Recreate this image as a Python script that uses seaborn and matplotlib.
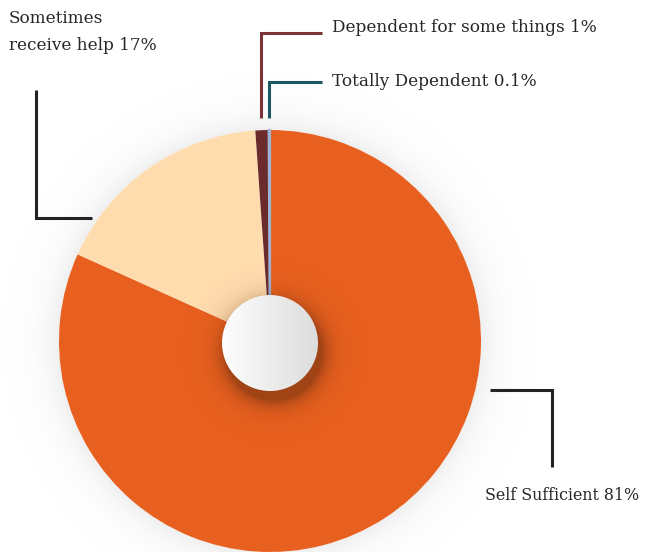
import numpy as np
import matplotlib
matplotlib.use("Agg")
import matplotlib.pyplot as plt
from matplotlib.patches import Circle
import seaborn as sns

# Share of respondents by level of independence
categories = ["Self Sufficient", "Sometimes receive help",
              "Dependent for some things", "Totally Dependent"]
values = [81, 17, 1, 0.1]
labels = ["Self Sufficient 81%", "Sometimes\nreceive help 17%",
          "Dependent for some things 1%", "Totally Dependent 0.1%"]
colors = ["#E8601F", "#FEDCAE", "#6B2A2C", "#9DB3D4"]
line_colors = ["#222222", "#222222", "#7A3438", "#1E5664"]

sns.set_theme(style="white")
plt.rcParams["font.family"] = ["DejaVu Serif"]

W, H = 646, 552
fig = plt.figure(figsize=(W / 100, H / 100), dpi=100)
ax = fig.add_axes([0, 0, 1, 1])

cx, cy, R = 270, H - 341, 211

# soft grey halo around the pie
yy, xx = np.mgrid[0:H, 0:W]
xs, ys = xx + 0.5, (H - yy) - 0.5
d = np.hypot(xs - cx, ys - cy) - R
halo = np.zeros((H, W, 4))
halo[..., :3] = 0.55
halo[..., 3] = np.where(d > 0, 0.14 * np.exp(-d / 16.0), 0)
ax.imshow(halo, extent=(0, W, 0, H), origin="upper", zorder=0,
          interpolation="bilinear")

wedges, _ = ax.pie(values, colors=colors, startangle=90, counterclock=False,
                   center=(cx, cy), radius=R, normalize=True,
                   wedgeprops=dict(linewidth=0))
for w in wedges:
    w.set_zorder(1)
wedges[3].set_edgecolor(colors[3])
wedges[3].set_linewidth(1.6)

# drop shadow of the centre disc
hr = 48
hcx, hcy = 270, H - 343
sd = np.hypot(xs - (hcx + 4), ys - (hcy - 9)) - hr
shadow = np.zeros((H, W, 4))
shadow[..., 0] = 0.35
shadow[..., 1] = 0.15
shadow[..., 2] = 0.05
shadow[..., 3] = np.clip(0.5 * np.exp(-np.clip(sd, 0, None) / 9.0), 0, 0.5)
sh = ax.imshow(shadow, extent=(0, W, 0, H), origin="upper", zorder=2,
               interpolation="bilinear")
sh.set_clip_path(Circle((cx, cy), R, transform=ax.transData))

# centre disc with a left-to-right grey gradient
grad = np.linspace(0, 1, 256)[None, :]
g = np.zeros((1, 256, 3))
g[..., 0] = g[..., 1] = g[..., 2] = 0.995 - 0.13 * grad
disc = Circle((hcx, hcy), hr, transform=ax.transData, facecolor="none",
              edgecolor="none")
ax.add_patch(disc)
im = ax.imshow(g, extent=(hcx - hr, hcx + hr, hcy - hr, hcy + hr),
               aspect="auto", zorder=3, interpolation="bilinear")
im.set_clip_path(disc)

# connector lines (pixel coordinates from the top-left)
def conn(pts, color):
    px = [p[0] for p in pts]
    py = [H - p[1] for p in pts]
    ax.plot(px, py, color=color, lw=2.2, solid_joinstyle="miter",
            solid_capstyle="butt", zorder=4)

conn([(490, 390), (552, 390), (552, 467)], line_colors[0])
conn([(36, 90), (36, 218), (92, 218)], line_colors[1])
conn([(322, 33), (261, 33), (261, 118)], line_colors[2])
conn([(322, 82), (269, 82), (269, 118)], line_colors[3])

txt = dict(color="#262626", zorder=5)
ax.text(485, H - 496, labels[0], ha="left", va="center", fontsize=11.4, **txt)
ax.text(9, H - 32, labels[1], ha="left", va="center", linespacing=1.7,
        fontsize=12.2, **txt)
ax.text(332, H - 28, labels[2], ha="left", va="center", fontsize=12.2, **txt)
ax.text(332, H - 82, labels[3], ha="left", va="center", fontsize=12.2, **txt)

ax.set_xlim(0, W)
ax.set_ylim(0, H)
ax.set_aspect("equal")
ax.axis("off")

fig.savefig("out.png", dpi=100, facecolor="white")
